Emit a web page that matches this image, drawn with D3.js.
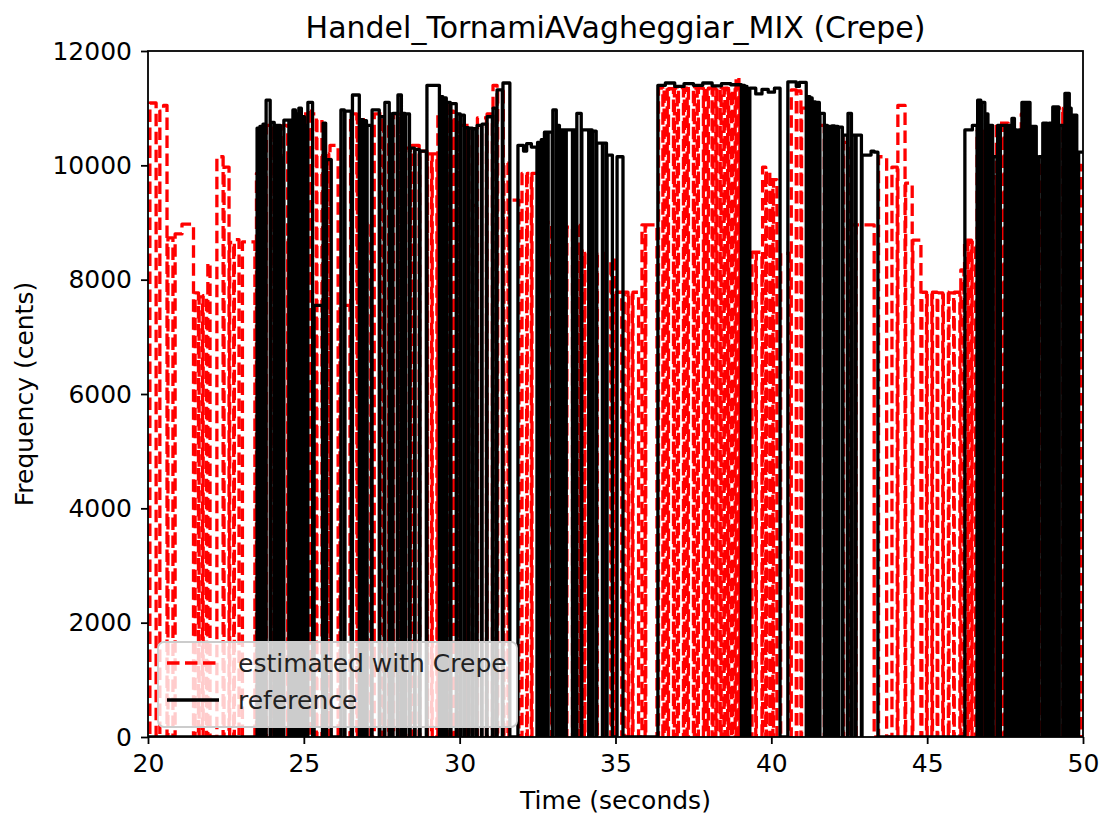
<!DOCTYPE html>
<html lang="en">
<head>
<meta charset="UTF-8">
<title>Handel_TornamiAVagheggiar_MIX (Crepe)</title>
<script src="https://cdn.jsdelivr.net/npm/d3@7"></script>
<style>
  body { margin: 0; background: #fff; }
  svg { font-family: "DejaVu Sans", sans-serif; }
</style>
</head>
<body>
<div id="chart"></div>
<script>
// Notes are [start (s), end (s), pitch (cents)].
// A note starting exactly where the previous one ends continues without dropping to 0.
const estimatedNotes = [
  [20.06, 20.26, 11090], [20.38, 20.50, 10950], [20.50, 20.61, 11050],
  [20.64, 20.80, 8730], [20.87, 21.09, 8800], [21.09, 21.46, 8970],
  [21.51, 21.62, 7770], [21.64, 21.75, 7700], [21.77, 21.88, 7720],
  [21.92, 21.99, 8290], [22.21, 22.41, 10150], [22.44, 22.60, 9970],
  [22.62, 22.75, 8650], [22.77, 22.92, 8700], [23.03, 23.43, 8660],
  [23.48, 23.62, 9860], [23.64, 23.78, 9850], [23.80, 23.95, 10700], [23.97, 24.12, 10650],
  [24.14, 24.30, 8700], [24.32, 24.48, 10700], [24.50, 24.66, 8700], [24.68, 24.85, 10900],
  [24.87, 25.04, 8650], [25.06, 25.22, 10950], [25.24, 25.40, 10900], [25.42, 25.58, 10800],
  [25.60, 25.80, 10200], [25.84, 26.10, 10350], [26.16, 26.48, 7550], [26.50, 26.70, 10900],
  [26.72, 27.00, 10800], [27.02, 27.15, 9000], [27.26, 27.52, 10900], [27.56, 27.72, 10750],
  [27.74, 27.85, 7780], [27.88, 28.05, 10900], [28.07, 28.25, 10850], [28.27, 28.42, 10300],
  [28.47, 28.70, 10350], [28.72, 28.95, 10250], [28.97, 29.10, 10200], [29.12, 29.27, 10200],
  [29.30, 29.45, 10900], [29.47, 29.60, 11100], [29.62, 29.80, 10950], [29.82, 29.98, 10800],
  [30.00, 30.20, 10700], [30.22, 30.40, 10700], [30.42, 30.55, 9300], [30.57, 30.86, 10830],
  [30.88, 31.05, 10900], [31.07, 31.20, 11400], [31.22, 31.40, 11300], [31.42, 31.55, 10040],
  [31.58, 31.90, 9390],
  [32.00, 32.15, 9860], [32.17, 32.30, 9860], [32.32, 32.55, 9860], [32.57, 32.75, 9500],
  [32.77, 32.95, 9000], [32.97, 33.15, 8950], [33.17, 33.40, 9000], [33.44, 33.62, 8920],
  [33.64, 33.85, 8950], [33.87, 34.00, 8500], [34.02, 34.20, 8460], [34.22, 34.40, 8460],
  [34.42, 34.65, 8460], [34.67, 34.85, 8340], [34.87, 35.00, 8340], [35.02, 35.20, 7780],
  [35.28, 35.40, 7780], [35.42, 35.54, 7760], [35.56, 35.74, 7780],
  [35.85, 35.95, 8960], [35.97, 36.33, 8960],
  [36.38, 36.52, 11350], [36.56, 36.66, 11350], [36.70, 36.86, 11340], [36.89, 36.98, 11350],
  [37.02, 37.18, 11360], [37.21, 37.30, 11350], [37.34, 37.50, 11340], [37.53, 37.62, 11350],
  [37.66, 37.82, 11350], [37.85, 37.94, 11360], [37.98, 38.10, 11350], [38.13, 38.22, 11340],
  [38.25, 38.36, 11350], [38.39, 38.48, 11350], [38.51, 38.60, 11350], [38.63, 38.72, 11340],
  [38.75, 38.84, 11350], [38.87, 38.96, 11540], [38.99, 39.10, 11350],
  [39.38, 39.50, 8480], [39.52, 39.70, 8480], [39.72, 39.82, 9970], [39.84, 39.95, 9900],
  [39.97, 40.05, 9750], [40.07, 40.18, 9750], [40.30, 40.58, 8460],
  [40.64, 40.80, 11320], [40.82, 40.95, 11300],
  [40.97, 41.15, 11000], [41.17, 41.30, 11100], [41.32, 41.50, 10900], [41.52, 41.70, 10700],
  [41.72, 41.90, 8450], [41.92, 42.10, 8460], [42.12, 42.30, 10500], [42.32, 42.50, 10400],
  [42.52, 42.70, 8960], [42.72, 43.30, 8960],
  [43.44, 43.70, 10150], [43.87, 44.04, 9970], [44.06, 44.29, 11050], [44.31, 44.52, 9690],
  [44.54, 44.80, 8690],
  [44.83, 44.98, 7780], [45.00, 45.15, 7760], [45.17, 45.32, 7780], [45.34, 45.50, 7770],
  [45.52, 45.68, 7780], [45.70, 45.85, 7770], [45.87, 46.05, 7780], [46.08, 46.18, 8170],
  [46.20, 46.30, 8690], [46.32, 46.42, 8690], [46.44, 46.55, 8650],
  [46.60, 46.80, 10600], [46.82, 47.00, 10500], [47.02, 47.20, 9800], [47.22, 47.45, 10740],
  [47.47, 47.60, 10740], [47.62, 47.80, 10500], [47.82, 48.00, 9500], [48.02, 48.20, 10900],
  [48.22, 48.40, 10600], [48.42, 48.58, 8920], [48.60, 48.78, 10000], [48.80, 48.95, 8920],
  [48.97, 49.15, 10800], [49.17, 49.35, 11000], [49.37, 49.55, 11000], [49.57, 49.75, 10700],
  [49.77, 49.95, 10000]
];

const referenceNotes = [
  [23.50, 23.57, 10650], [23.59, 23.67, 10680], [23.69, 23.77, 10720], [23.79, 23.92, 11140],
  [23.94, 24.05, 10750], [24.07, 24.15, 10700], [24.17, 24.25, 10700], [24.27, 24.34, 10130],
  [24.36, 24.52, 10790], [24.54, 24.63, 10790], [24.65, 24.73, 10970], [24.75, 24.82, 10900],
  [24.84, 24.92, 11000], [24.94, 25.02, 10850], [25.04, 25.11, 10700], [25.13, 25.28, 11100],
  [25.33, 25.60, 7550], [25.62, 25.70, 10740],
  [25.73, 25.88, 10100], [26.19, 26.30, 10970], [26.32, 26.52, 10950], [26.56, 26.78, 11230],
  [26.80, 26.90, 10800], [26.92, 27.01, 10780], [27.03, 27.17, 10700], [27.19, 27.42, 10970],
  [27.44, 27.58, 10850], [27.60, 27.74, 11100], [27.76, 27.84, 10900], [27.86, 28.00, 10910],
  [28.02, 28.13, 11230], [28.15, 28.25, 10910], [28.27, 28.39, 10900], [28.41, 28.55, 10300],
  [28.57, 28.71, 10280], [28.73, 28.93, 10250], [28.95, 29.35, 11400], [29.37, 29.46, 11200],
  [29.48, 29.57, 11180], [29.59, 29.70, 11100], [29.72, 29.89, 11080], [29.91, 30.02, 10900],
  [30.04, 30.15, 10880], [30.17, 30.28, 10660], [30.30, 30.41, 10650], [30.43, 30.54, 10640],
  [30.56, 30.70, 10700], [30.72, 30.86, 10720], [30.88, 31.05, 10850], [31.07, 31.18, 11000],
  [31.20, 31.37, 11320], [31.39, 31.61, 11440],
  [31.87, 32.05, 10350], [32.05, 32.15, 10250], [32.15, 32.30, 10380], [32.30, 32.48, 10320],
  [32.50, 32.60, 10400], [32.62, 32.70, 10450], [32.72, 32.82, 10580], [32.84, 32.97, 10580],
  [32.99, 33.10, 10970], [33.12, 33.20, 10700], [33.22, 33.30, 10620], [33.32, 33.40, 10620],
  [33.42, 33.62, 10620], [33.64, 33.74, 10620], [33.76, 33.90, 10910], [33.92, 34.14, 10620],
  [34.16, 34.25, 10620], [34.27, 34.38, 10600], [34.40, 34.58, 10390], [34.60, 34.71, 10390],
  [34.73, 34.90, 10180], [35.05, 35.24, 10150],
  [36.36, 36.60, 11400], [36.60, 36.90, 11440], [36.90, 37.20, 11380], [37.20, 37.50, 11430],
  [37.50, 37.80, 11400], [37.80, 38.10, 11440], [38.10, 38.40, 11390], [38.40, 38.70, 11430],
  [38.70, 39.04, 11410], [39.07, 39.14, 11400], [39.16, 39.22, 11380],
  [39.31, 39.50, 11350], [39.50, 39.70, 11250], [39.70, 39.90, 11330], [39.90, 40.10, 11280],
  [40.10, 40.28, 11350],
  [40.53, 40.80, 11460], [40.80, 40.90, 11380], [40.90, 41.12, 11450],
  [41.14, 41.24, 11200], [41.26, 41.31, 11180], [41.33, 41.42, 11110], [41.44, 41.54, 11100],
  [41.56, 41.70, 10910], [41.72, 41.80, 10700], [41.82, 41.92, 10680], [41.94, 42.03, 10690],
  [42.05, 42.14, 10680], [42.16, 42.28, 10670], [42.30, 42.44, 10530], [42.46, 42.57, 10910],
  [42.59, 42.70, 10530], [42.72, 42.89, 10530], [42.91, 43.20, 10180], [43.20, 43.30, 10250],
  [43.30, 43.42, 10230],
  [46.21, 46.45, 10620], [46.45, 46.60, 10700], [46.62, 46.72, 11140], [46.74, 46.85, 11100],
  [46.87, 46.95, 10900], [46.97, 47.05, 10700], [47.07, 47.10, 10700], [47.12, 47.24, 10150],
  [47.26, 47.33, 10700], [47.35, 47.50, 10700], [47.52, 47.60, 10700], [47.62, 47.70, 10700],
  [47.72, 47.80, 10820], [47.82, 47.88, 10620], [47.94, 48.02, 10620], [48.04, 48.12, 11100],
  [48.14, 48.22, 11100], [48.24, 48.30, 11100], [48.32, 48.40, 10680], [48.42, 48.50, 10680],
  [48.58, 48.69, 10150], [48.71, 48.79, 10740], [48.81, 48.85, 10740], [48.91, 49.01, 10740],
  [49.03, 49.11, 11020], [49.13, 49.22, 11020], [49.24, 49.35, 10700], [49.37, 49.40, 10700],
  [49.42, 49.49, 11260], [49.51, 49.56, 11260], [49.58, 49.62, 11000], [49.64, 49.71, 10880],
  [49.73, 49.80, 10880], [49.86, 50.05, 10230]
];

const xTicks = [20, 25, 30, 35, 40, 45, 50];
const yTicks = [0, 2000, 4000, 6000, 8000, 10000, 12000];
const seriesNames = ["estimated with Crepe", "reference"];

const width = 1102, height = 818;
const margin = { top: 51, right: 19, bottom: 81, left: 148 };
const plotW = width - margin.left - margin.right;
const plotH = height - margin.top - margin.bottom;

const x = d3.scaleLinear().domain([20, 50]).range([0, plotW]);
const y = d3.scaleLinear().domain([0, 12000]).range([plotH, 0]);

// turn notes into a pitch track that sits at 0 when unvoiced
function toTrack(notes) {
  const pts = [[19, 0]];
  notes.forEach((n, i) => {
    const prev = notes[i - 1], next = notes[i + 1];
    if (!(prev && prev[1] === n[0])) pts.push([n[0], 0]);
    pts.push([n[0], n[2]], [n[1], n[2]]);
    if (!(next && next[0] === n[1])) pts.push([n[1], 0]);
  });
  pts.push([51, 0]);
  return pts;
}

const line = d3.line().x(d => x(d[0])).y(d => y(d[1]));

const svg = d3.select('#chart').append('svg')
  .attr('width', width).attr('height', height);

svg.append('defs').append('clipPath').attr('id', 'clip')
  .append('rect').attr('width', plotW).attr('height', plotH);

const g = svg.append('g').attr('transform', `translate(${margin.left},${margin.top})`);

const plot = g.append('g').attr('clip-path', 'url(#clip)');
plot.append('path')
  .attr('d', line(toTrack(estimatedNotes)))
  .attr('fill', 'none').attr('stroke', '#ff0000')
  .attr('stroke-width', 3.3).attr('stroke-dasharray', '12.5,5.5')
  .attr('stroke-linejoin', 'round');
plot.append('path')
  .attr('d', line(toTrack(referenceNotes)))
  .attr('fill', 'none').attr('stroke', '#000')
  .attr('stroke-width', 3.3).attr('stroke-linejoin', 'round');

// axes
const xAxis = g.append('g').attr('transform', `translate(0,${plotH})`)
  .call(d3.axisBottom(x).tickValues(xTicks).tickFormat(d3.format('d')).tickSize(7).tickPadding(10));
const yAxis = g.append('g')
  .call(d3.axisLeft(y).tickValues(yTicks).tickFormat(d3.format('d')).tickSize(7).tickPadding(9));
[xAxis, yAxis].forEach(a => {
  a.select('.domain').remove();
  a.selectAll('line').attr('stroke', '#000').attr('stroke-width', 1.8);
  a.selectAll('text').attr('font-size', 25).attr('fill', '#000')
    .attr('font-family', '"DejaVu Sans", sans-serif');
});

g.append('rect').attr('width', plotW).attr('height', plotH)
  .attr('fill', 'none').attr('stroke', '#000').attr('stroke-width', 1.8);

// labels
svg.append('text').attr('x', margin.left + plotW / 2).attr('y', 38)
  .attr('text-anchor', 'middle').attr('font-size', 30).text('Handel_TornamiAVagheggiar_MIX (Crepe)');
svg.append('text').attr('x', margin.left + plotW / 2).attr('y', 809)
  .attr('text-anchor', 'middle').attr('font-size', 25).text('Time (seconds)');
svg.append('text').attr('transform', `translate(33,${margin.top + plotH / 2}) rotate(-90)`)
  .attr('text-anchor', 'middle').attr('font-size', 25).text('Frequency (cents)');

// legend
const lg = svg.append('g').attr('transform', 'translate(158,642)');
lg.append('rect').attr('width', 359).attr('height', 85).attr('rx', 6)
  .attr('fill', '#fff').attr('fill-opacity', 0.8).attr('stroke', '#ccc').attr('stroke-width', 1.8);
lg.append('line').attr('x1', 9).attr('x2', 61).attr('y1', 21).attr('y2', 21)
  .attr('stroke', '#ff0000').attr('stroke-width', 3.3).attr('stroke-dasharray', '12.5,5.5');
lg.append('line').attr('x1', 9).attr('x2', 61).attr('y1', 58).attr('y2', 58)
  .attr('stroke', '#000').attr('stroke-width', 3.3);
lg.selectAll('text.lbl').data(seriesNames).enter().append('text')
  .attr('class', 'lbl').attr('x', 80).attr('y', (d, i) => 21 + i * 37)
  .attr('dy', '0.36em').attr('font-size', 25).attr('fill', '#222').text(d => d);
</script>
</body>
</html>
